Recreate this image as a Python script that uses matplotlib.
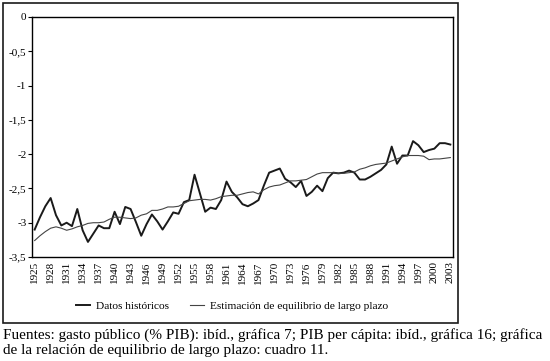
from matplotlib import pyplot as plt
from matplotlib.patches import Rectangle
import numpy as np

# Gasto publico vs PIB per capita: datos historicos y relacion de largo plazo
years = np.arange(1925, 2004)

historicos = [
    -3.10, -2.92, -2.76, -2.64, -2.89, -3.04, -3.00, -3.05, -2.80, -3.11,
    -3.28, -3.16, -3.04, -3.08, -3.08, -2.84, -3.02, -2.77, -2.80, -2.99,
    -3.19, -3.02, -2.88, -2.98, -3.10, -2.98, -2.85, -2.87, -2.70, -2.67,
    -2.30, -2.57, -2.84, -2.78, -2.80, -2.67, -2.40, -2.55, -2.63, -2.73,
    -2.76, -2.72, -2.67, -2.46, -2.27, -2.24, -2.21, -2.36, -2.41, -2.48,
    -2.39, -2.61, -2.55, -2.46, -2.54, -2.35, -2.27, -2.28, -2.27, -2.24,
    -2.27, -2.37, -2.37, -2.33, -2.28, -2.23, -2.15, -1.89, -2.14, -2.02,
    -2.02, -1.81, -1.87, -1.97, -1.94, -1.92, -1.84, -1.84, -1.86,
]

equilibrio = [
    -3.26, -3.19, -3.13, -3.08, -3.06, -3.08, -3.11, -3.09, -3.06, -3.04,
    -3.01, -3.00, -3.00, -2.99, -2.95, -2.92, -2.92, -2.93, -2.94, -2.93,
    -2.89, -2.87, -2.82, -2.82, -2.80, -2.77, -2.77, -2.76, -2.72, -2.68,
    -2.67, -2.66, -2.66, -2.67, -2.65, -2.62, -2.61, -2.60, -2.60, -2.58,
    -2.56, -2.55, -2.58, -2.52, -2.48, -2.46, -2.45, -2.42, -2.39, -2.39,
    -2.38, -2.37, -2.33, -2.29, -2.27, -2.27, -2.27, -2.28, -2.28, -2.27,
    -2.26, -2.22, -2.20, -2.17, -2.15, -2.14, -2.13, -2.10, -2.07, -2.04,
    -2.02, -2.02, -2.02, -2.03, -2.08, -2.07, -2.07, -2.06, -2.05,
]

y_ticks = [0, -0.5, -1, -1.5, -2, -2.5, -3, -3.5]
y_labels = ['0', '-0,5', '-1', '-1,5', '-2', '-2,5', '-3', '-3,5']

caption = ('Fuentes: gasto público (% PIB): ibíd., gráfica 7; PIB per cápita: ibíd., gráfica 16; gráfica\n'
           'de la relación de equilibrio de largo plazo: cuadro 11.')

plt.rcParams['font.family'] = ['Liberation Serif', 'DejaVu Serif']

fig = plt.figure(figsize=(5.5, 3.61), dpi=100)
ax = fig.add_axes([32/550, 1 - 257/361, 421/550, 240/361])

l1, = ax.plot(years, historicos, color='#1a1a1a', linewidth=1.4)
l2, = ax.plot(years, equilibrio, color='#444444', linewidth=0.8)

ax.set_xlim(1924.5, 2003.5)
ax.set_ylim(-3.5, 0)
ax.set_yticks(y_ticks)
ax.set_yticklabels(y_labels, fontsize=8)
ax.set_xticks(years[::3])
ax.set_xticklabels([str(y) for y in years[::3]], rotation=90, fontsize=8)
ax.tick_params(axis='x', length=0, pad=3)
ax.tick_params(axis='y', length=3, pad=1)
for s in ax.spines.values():
    s.set_linewidth(1.0)

fig.legend([l1, l2], ['Datos históricos', 'Estimación de equilibrio de largo plazo'],
           loc='center', bbox_to_anchor=(232/550, 1 - 306/361), ncol=2, frameon=False,
           fontsize=8.2, handlelength=1.3, handletextpad=0.5, columnspacing=1.8)

fig.patches.append(Rectangle((3/550, 1 - 323/361), 455/550, 320/361, transform=fig.transFigure,
                             fill=False, edgecolor='#1a1a1a', linewidth=1.2))

fig.text(3/550, 1 - 328/361, caption, ha='left', va='top', fontsize=11, linespacing=1.2)

fig.savefig('out.png', dpi=100)
